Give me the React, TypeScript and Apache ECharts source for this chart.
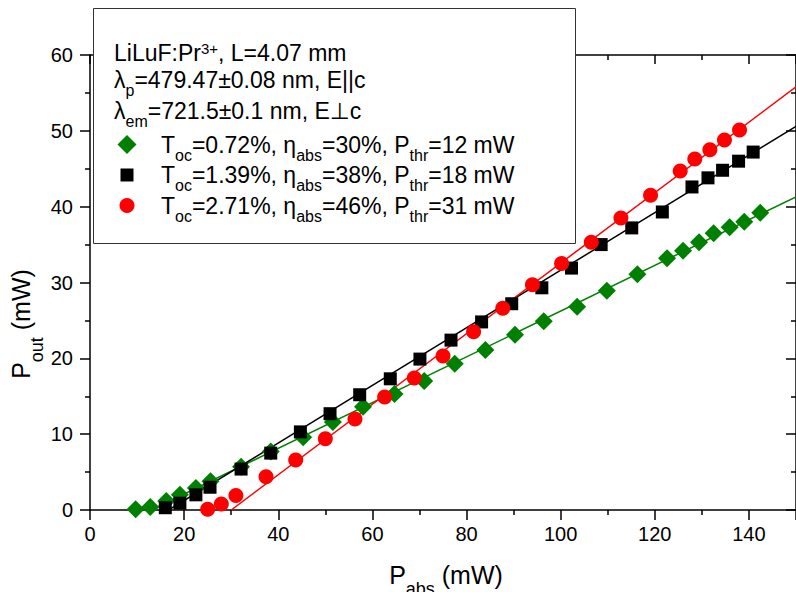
import React, { useEffect, useRef } from "react";
import * as echarts from "echarts";

// ---- data ----
const greenX = [9.7, 12.8, 16.2, 19.1, 22.5, 25.6, 32.1, 38.4, 45.3, 51.6, 58.0, 64.7, 71.0, 77.5, 84.0, 90.3, 96.4, 103.5, 109.8, 116.3, 122.6, 126.0, 129.4, 132.5, 135.9, 139.0, 142.4];
const greenY = [0.1, 0.4, 1.2, 2.0, 2.9, 3.8, 5.7, 7.7, 9.6, 11.6, 13.6, 15.3, 17.0, 19.3, 21.1, 23.1, 24.9, 26.8, 28.9, 31.1, 33.2, 34.2, 35.3, 36.5, 37.3, 38.0, 39.2];

const blackX = [16.0, 19.1, 22.5, 25.5, 32.1, 38.4, 44.7, 51.0, 57.3, 63.8, 70.1, 76.7, 83.2, 89.6, 96.0, 102.3, 108.6, 115.1, 121.6, 127.9, 131.3, 134.4, 137.8, 140.9];
const blackY = [0.3, 0.9, 2.0, 3.0, 5.4, 7.5, 10.3, 12.7, 15.2, 17.3, 19.9, 22.4, 24.8, 27.2, 29.3, 31.9, 35.0, 37.2, 39.3, 42.6, 43.8, 44.8, 46.0, 47.2];

const redX = [25.0, 27.9, 31.0, 37.4, 43.7, 50.0, 56.3, 62.6, 68.9, 75.0, 81.5, 87.7, 94.0, 100.2, 106.5, 112.8, 119.1, 125.4, 128.5, 131.7, 134.8, 138.0];
const redY = [0.1, 0.8, 1.9, 4.4, 6.6, 9.4, 12.0, 14.9, 17.4, 20.3, 23.5, 26.6, 29.7, 32.5, 35.3, 38.5, 41.5, 44.7, 46.3, 47.5, 48.8, 50.1];

// linear fit lines (end points)
const greenFitX = [13.0, 150];
const greenFitY = [0, 41.3];
const blackFitX = [16.7, 150];
const blackFitY = [0, 50.6];
const redFitX = [30.0, 150];
const redFitY = [0, 55.8];

const xTicks = { min: 0, max: 150, interval: 20 };
const yTicks = { min: 0, max: 60, interval: 10 };

const seriesNames = ["green", "black", "red"];
const legendTexts = [
  "{n|T}{s|oc}{n|=0.72%, η}{s|abs}{n|=30%, P}{s|thr}{n|=12 mW}",
  "{n|T}{s|oc}{n|=1.39%, η}{s|abs}{n|=38%, P}{s|thr}{n|=18 mW}",
  "{n|T}{s|oc}{n|=2.71%, η}{s|abs}{n|=46%, P}{s|thr}{n|=31 mW}",
];
const headerLines = [
  "{n|LiLuF:Pr}{u|3+}{n|, L=4.07 mm}",
  "{n|λ}{s|p}{n|=479.47±0.08 nm, E||c}",
  "{n|λ}{s|em}{n|=721.5±0.1 nm, E⊥c}",
];

const FONT = "'Liberation Sans', Arial, 'DejaVu Sans', sans-serif";
const GREEN = "#008000";
const RED = "#ff0000";
const BLACK = "#000000";

const pairs = (xs: number[], ys: number[]) => xs.map((x, i) => [x, ys[i]]);

function makeRich(main: number, sub: number, subPad: number) {
  const base = { fontFamily: FONT, fill: "#000", color: "#000", verticalAlign: "top", lineHeight: main };
  return {
    n: { ...base, fontSize: main },
    s: { ...base, fontSize: sub, padding: [subPad, 0, 0, 0] },
    u: { ...base, fontSize: sub - 1 },
    sp: { ...base, fontSize: main, width: 20 },
  };
}

export default function App() {
  const ref = useRef<HTMLDivElement>(null);
  useEffect(() => {
    if (!ref.current) return;
    const chart = echarts.init(ref.current, null, { renderer: "svg" });
    const richText = makeRich(23, 16, 14);

    const axisCommon = {
      type: "value" as const,
      axisLine: { show: true, onZero: false, lineStyle: { color: "#000", width: 1.5 } },
      splitLine: { show: false },
    };

    const legendRows = [
      { name: "green", size: 19, center: 144.5 },
      { name: "black", size: 13, center: 175 },
      { name: "red", size: 15, center: 205.5 },
    ];

    const option: any = {
      animation: false,
      backgroundColor: "#fff",
      grid: { left: 90, top: 55, width: 714, height: 455, containLabel: false },
      xAxis: [
        {
          ...axisCommon,
          position: "bottom",
          min: xTicks.min,
          max: xTicks.max,
          interval: xTicks.interval,
          axisTick: { show: true, inside: false, length: 10, lineStyle: { color: "#000", width: 1.5 } },
          minorTick: { show: true, splitNumber: 2, length: 5, lineStyle: { color: "#000", width: 1.5 } },
          axisLabel: { show: true, fontSize: 20, fontFamily: FONT, color: "#000", margin: 14, showMaxLabel: false },
        },
        {
          ...axisCommon,
          position: "top",
          min: xTicks.min,
          max: xTicks.max,
          interval: xTicks.interval,
          axisTick: { show: true, inside: true, length: 9, lineStyle: { color: "#000", width: 1.5 } },
          minorTick: { show: true, splitNumber: 2, length: 5, lineStyle: { color: "#000", width: 1.5 } },
          axisLabel: { show: false },
        },
      ],
      yAxis: [
        {
          ...axisCommon,
          position: "left",
          min: yTicks.min,
          max: yTicks.max,
          interval: yTicks.interval,
          axisTick: { show: true, inside: false, length: 10, lineStyle: { color: "#000", width: 1.5 } },
          minorTick: { show: true, splitNumber: 2, length: 5, lineStyle: { color: "#000", width: 1.5 } },
          axisLabel: { show: true, fontSize: 20, fontFamily: FONT, color: "#000", margin: 17 },
        },
        {
          ...axisCommon,
          position: "right",
          min: yTicks.min,
          max: yTicks.max,
          interval: yTicks.interval,
          axisTick: { show: true, inside: true, length: 10, lineStyle: { color: "#000", width: 1.5 } },
          minorTick: { show: true, splitNumber: 2, length: 5, lineStyle: { color: "#000", width: 1.5 } },
          axisLabel: { show: false },
        },
      ],
      legend: legendRows.map((row, i) => ({
        data: [row.name],
        orient: "vertical",
        left: 127 - row.size / 2,
        top: row.center - Math.max(row.size, 23) / 2,
        padding: 0,
        itemWidth: row.size,
        itemHeight: row.size,
        selectedMode: false,
        z: 6,
        formatter: () => "{sp| }" + legendTexts[i],
        textStyle: {
          fontSize: 23,
          fontFamily: FONT,
          color: "#000",
          rich: { ...richText, sp: { ...richText.sp, width: 29 - row.size / 2 } },
        },
      })),
      graphic: [
        {
          type: "rect",
          z: 3,
          shape: { x: 93.5, y: 8.5, width: 482, height: 235 },
          style: { fill: "#fff", stroke: "#333", lineWidth: 1 },
        },
        ...headerLines.map((t, i) => ({
          type: "text",
          z: 5,
          x: 114,
          y: [52.5, 79.5, 111][i],
          style: {
            text: t,
            rich: richText,
            fontSize: 23,
            fontFamily: FONT,
            fill: "#000",
            align: "left",
            verticalAlign: "middle",
          },
        })),
        {
          type: "text",
          z: 5,
          x: 446,
          y: 575,
          style: {
            text: "{n|P}{s|abs}{n| (mW)}",
            rich: makeRich(25, 18, 17),
            fontSize: 25,
            fontFamily: FONT,
            fill: "#000",
            align: "center",
            verticalAlign: "middle",
          },
        },
        {
          type: "text",
          z: 5,
          x: 21,
          y: 324,
          rotation: Math.PI / 2,
          style: {
            text: "{n|P}{s|out}{n| (mW)}",
            rich: makeRich(25, 18, 19),
            fontSize: 25,
            fontFamily: FONT,
            fill: "#000",
            align: "center",
            verticalAlign: "middle",
          },
        },
      ],
      series: [
        {
          name: "greenFit",
          type: "line",
          data: pairs(greenFitX, greenFitY),
          symbol: "none",
          lineStyle: { color: GREEN, width: 1.5 },
          itemStyle: { color: GREEN },
          silent: true,
          z: 2,
        },
        {
          name: "blackFit",
          type: "line",
          data: pairs(blackFitX, blackFitY),
          symbol: "none",
          lineStyle: { color: BLACK, width: 1.5 },
          itemStyle: { color: BLACK },
          silent: true,
          z: 2,
        },
        {
          name: "redFit",
          type: "line",
          data: pairs(redFitX, redFitY),
          symbol: "none",
          lineStyle: { color: RED, width: 1.5 },
          itemStyle: { color: RED },
          silent: true,
          z: 2,
        },
        {
          name: seriesNames[0],
          type: "scatter",
          data: pairs(greenX, greenY),
          symbol: "diamond",
          symbolSize: 18,
          itemStyle: { color: GREEN, opacity: 1 },
          z: 3,
        },
        {
          name: seriesNames[1],
          type: "scatter",
          data: pairs(blackX, blackY),
          symbol: "rect",
          symbolSize: 13,
          itemStyle: { color: BLACK, opacity: 1 },
          z: 3,
        },
        {
          name: seriesNames[2],
          type: "scatter",
          data: pairs(redX, redY),
          symbol: "circle",
          symbolSize: 15,
          itemStyle: { color: RED, opacity: 1 },
          z: 3,
        },
      ],
    };
    chart.setOption(option);
    return () => chart.dispose();
  }, []);
  return <div ref={ref} style={{ width: 796, height: 592, position: "absolute", left: 0, top: 0 }} />;
}
